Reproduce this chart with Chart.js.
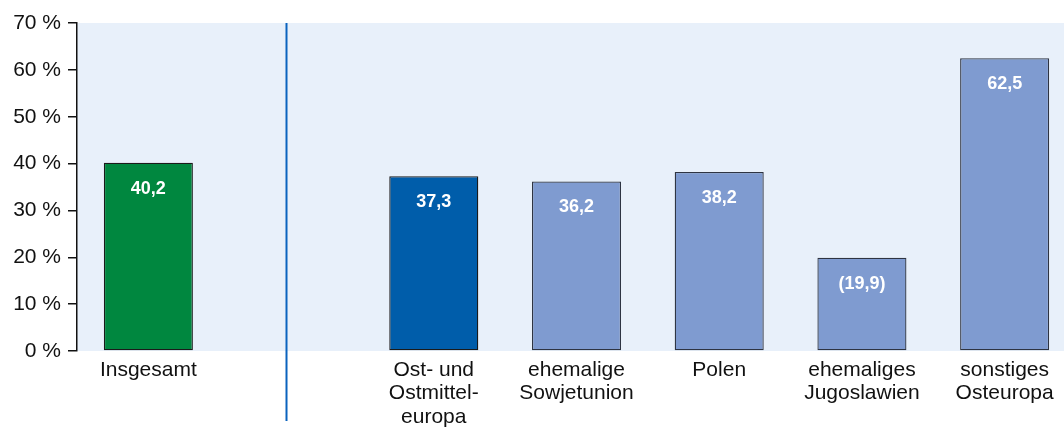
<!DOCTYPE html>
<html>
<head>
<meta charset="utf-8">
<script src="https://cdn.jsdelivr.net/npm/chart.js@4"></script>
<style>
html,body{margin:0;padding:0;background:#fff;overflow:hidden;}
#wrap{width:1076px;height:427px;position:relative;}
</style>
</head>
<body>
<div id="wrap"><canvas id="c"></canvas></div>
<script>
const categories = [
  "Insgesamt",
  "",
  ["Ost- und", "Ostmittel-", "europa"],
  ["ehemalige", "Sowjetunion"],
  "Polen",
  ["ehemaliges", "Jugoslawien"],
  ["sonstiges", "Osteuropa"]
];
const values = [40.2, null, 37.3, 36.2, 38.2, 19.9, 62.5];
const valueLabels = ["40,2", "", "37,3", "36,2", "38,2", "(19,9)", "62,5"];
const barColors = ["#00873F", "#FFFFFF", "#005DAA", "#7F9BD0", "#7F9BD0", "#7F9BD0", "#7F9BD0"];
const barBorders = ["#1a1a1a", "#FFFFFF", "#1a1a1a", "#2e3442", "#2e3442", "#2e3442", "#2e3442"];
const yTicks = [0, 10, 20, 30, 40, 50, 60, 70];
const dividerPosition = 0.963; // in category units, between "Insgesamt" and the groups

const FONT = "'Liberation Sans', Arial, Helvetica, sans-serif";

const bgPlugin = {
  id: 'bg',
  beforeDraw(chart) {
    const {ctx, chartArea: a} = chart;
    ctx.save();
    ctx.fillStyle = '#E8F0FA';
    ctx.fillRect(a.left, a.top, a.right - a.left, a.bottom - a.top);
    ctx.restore();
  },
  afterDraw(chart) {
    const {ctx, chartArea: a} = chart;
    const x = Math.round(chart.scales.x.getPixelForValue(dividerPosition)) + 0.5;
    ctx.save();
    ctx.strokeStyle = '#0A63BE';
    ctx.lineWidth = 2;
    ctx.beginPath();
    ctx.moveTo(x, a.top);
    ctx.lineTo(x, 421);
    ctx.stroke();
    const meta = chart.getDatasetMeta(0);
    ctx.fillStyle = '#FFFFFF';
    ctx.font = "bold 18px " + FONT;
    ctx.textAlign = 'center';
    ctx.textBaseline = 'middle';
    meta.data.forEach((bar, i) => {
      if (values[i] == null) return;
      ctx.fillText(valueLabels[i], bar.x, bar.y + 26);
    });
    ctx.restore();
  }
};

new Chart(document.getElementById('c'), {
  type: 'bar',
  data: {
    labels: categories,
    datasets: [{
      data: values,
      backgroundColor: barColors,
      borderColor: barBorders,
      borderWidth: 1.3,
      borderSkipped: false,
      categoryPercentage: 1,
      barPercentage: 0.624
    }]
  },
  plugins: [bgPlugin],
  options: {
    responsive: true,
    maintainAspectRatio: false,
    animation: false,
    layout: {padding: {top: 23, right: 0, left: 0, bottom: 0}},
    plugins: {legend: {display: false}, tooltip: {enabled: false}},
    scales: {
      x: {
        grid: {display: false, drawTicks: false},
        border: {display: false},
        ticks: {
          color: '#111',
          font: {family: FONT, size: 21, lineHeight: 1.12},
          padding: 7,
          maxRotation: 0,
          autoSkip: false
        },
        afterFit(scale) { scale.height = 76; }
      },
      y: {
        min: 0,
        max: 70,
        afterBuildTicks(scale) { scale.ticks = yTicks.map(v => ({value: v})); },
        grid: {display: true, drawOnChartArea: false, drawTicks: true, tickLength: 9, color: '#111', lineWidth: 1.5},
        border: {display: true, color: '#111', width: 1.5},
        ticks: {
          color: '#111',
          font: {family: FONT, size: 21},
          padding: 7,
          callback: v => v + ' %'
        },
        afterFit(scale) { scale.width = 77; }
      }
    }
  }
});
</script>
</body>
</html>
